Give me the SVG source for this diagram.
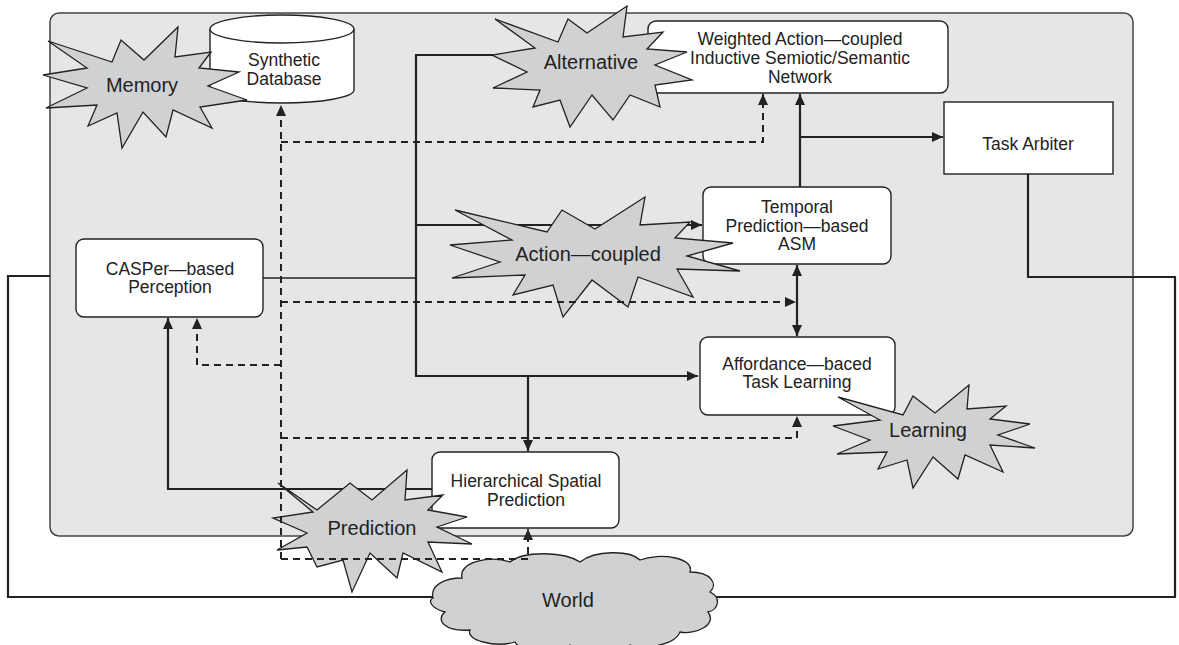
<svg xmlns="http://www.w3.org/2000/svg" width="1179" height="645" viewBox="0 0 1179 645">
<defs>
<style>
.txt{font-family:"Liberation Sans",Arial,sans-serif;fill:#222;text-anchor:middle}
.box{font-size:17.5px}
.big{font-size:20px}
.node{fill:#fff;stroke:#222;stroke-width:1.4}
.burst{fill:#d0d1d3;stroke:#222;stroke-width:1.3;stroke-linejoin:miter}
.solid{fill:none;stroke:#222;stroke-width:2.2}
.thin{fill:none;stroke:#222;stroke-width:1.6}
.dash{fill:none;stroke:#222;stroke-width:2;stroke-dasharray:7 5}
</style>
<marker id="ah" markerUnits="userSpaceOnUse" markerWidth="11" markerHeight="10" refX="11" refY="5" orient="auto-start-reverse">
<path d="M0,0 L11,5 L0,10 Z" fill="#222"/>
</marker>
</defs>
<rect width="1179" height="645" fill="#fff"/>
<rect id="panel" x="50" y="13" width="1083" height="523" rx="9" fill="#e5e6e8" stroke="#444" stroke-width="1.5"/>

<g id="connectors">
<polyline class="solid" points="50,276 8,276 8,597 434,597"/>
<polyline class="solid" points="1028,174 1028,277 1175,277 1175,597 716,597"/>
<line class="thin" x1="263" y1="278" x2="416" y2="278"/>
<polyline class="solid" points="493,55 416,55 416,376 698,376" marker-end="url(#ah)"/>
<line class="solid" x1="416" y1="225" x2="702" y2="225" marker-end="url(#ah)"/>
<line class="solid" x1="528" y1="376" x2="528" y2="451" marker-end="url(#ah)"/>
<line class="solid" x1="800" y1="187" x2="800" y2="94" marker-end="url(#ah)"/>
<line class="solid" x1="800" y1="137" x2="943" y2="137" marker-end="url(#ah)"/>
<line class="solid" x1="797" y1="265" x2="797" y2="336" marker-start="url(#ah)" marker-end="url(#ah)"/>
<polyline class="solid" points="432,489 168,489 168,318" marker-end="url(#ah)"/>
</g>

<g id="node-database">
<path class="node" d="M210,29 L210,90 A72,13 0 0 0 354,90 L354,29"/>
<ellipse class="node" cx="282" cy="29" rx="72" ry="14"/>
<text class="txt box" x="284" y="66">Synthetic</text>
<text class="txt box" x="284" y="85">Database</text>
</g>
<g id="node-waissn">
<rect class="node" x="648" y="21" width="300" height="72" rx="8"/>
<text class="txt box" x="800" y="45">Weighted Action—coupled</text>
<text class="txt box" x="800" y="64">Inductive Semiotic/Semantic</text>
<text class="txt box" x="800" y="83">Network</text>
</g>
<g id="node-arbiter">
<rect class="node" x="944" y="102" width="169" height="72"/>
<text class="txt box" x="1028" y="150">Task Arbiter</text>
</g>
<g id="node-temporal">
<rect class="node" x="703" y="187" width="188" height="77" rx="8"/>
<text class="txt box" x="797" y="213">Temporal</text>
<text class="txt box" x="797" y="232">Prediction—based</text>
<text class="txt box" x="797" y="250">ASM</text>
</g>
<g id="node-affordance">
<rect class="node" x="700" y="337" width="195" height="78" rx="8"/>
<text class="txt box" x="797" y="370">Affordance—baced</text>
<text class="txt box" x="797" y="388">Task Learning</text>
</g>
<g id="node-casper">
<rect class="node" x="76" y="239" width="187" height="78" rx="8"/>
<text class="txt box" x="170" y="275">CASPer—based</text>
<text class="txt box" x="170" y="293">Perception</text>
</g>
<g id="node-hsp">
<rect class="node" x="432" y="452" width="187" height="76" rx="8"/>
<text class="txt box" x="526" y="487">Hierarchical Spatial</text>
<text class="txt box" x="526" y="506">Prediction</text>
</g>

<g id="node-memory">
<polygon class="burst" points="48,41 112,62 121,40 144,60 178,27 175,57 211,52 199,68 239,72 208,86 247,100 200,107 212,128 173,110 166,137 143,112 122,148 117,113 88,126 97,105 46,108 87,88 43,75 87,68"/>
<text class="txt big" x="142" y="92">Memory</text>
</g>
<g id="node-alternative">
<polygon class="burst" points="495,19 558,42 568,19 587,33 627,6 623,37 663,32 647,49 687,52 655,65 692,80 655,85 660,107 630,95 613,120 592,95 570,127 560,100 533,107 540,90 493,88 527,72 492,55 535,48"/>
<text class="txt big" x="591" y="69">Alternative</text>
</g>
<g id="node-action">
<polygon class="burst" points="455,210 547,232 562,210 595,229 645,197 640,225 690,222 675,238 733,243 687,256 740,271 677,269 693,297 638,277 628,307 592,280 563,317 553,285 513,295 525,275 452,278 500,262 450,245 512,240"/>
<text class="txt big" x="588" y="261">Action—coupled</text>
</g>
<g id="node-learning">
<polygon class="burst" points="838,397 903,415 913,396 935,413 969,385 967,409 1006,406 990,419 1030,424 998,435 1035,448 990,445 1003,472 965,455 958,479 933,457 913,488 907,460 878,469 887,452 837,454 870,440 833,426 880,420"/>
<text class="txt big" x="928" y="437">Learning</text>
</g>
<g id="node-prediction">
<polygon class="burst" points="278,483 317,510 350,483 372,500 407,470 405,500 443,495 428,510 467,517 437,527 472,544 428,542 442,572 403,553 397,578 370,553 352,592 343,560 317,567 307,547 277,550 307,533 273,518 313,512"/>
<text class="txt big" x="372" y="535">Prediction</text>
</g>
<g id="node-world">
<path class="burst" d="M433,598 C430,585 445,578 462,578 C458,562 490,555 510,562 C525,550 565,552 580,562 C595,550 630,550 640,560 C660,552 695,558 690,572 C712,572 718,585 710,592 C722,598 718,610 708,612 C718,625 695,635 680,632 C675,645 645,650 630,645 C610,655 580,652 570,645 C555,655 520,652 515,642 C495,648 465,640 470,630 C445,632 435,620 445,612 C430,608 428,600 433,598 Z"/>
<text class="txt big" x="568" y="607">World</text>
</g>

<g id="dashed-connectors">
<line class="dash" x1="281" y1="559" x2="281" y2="105" marker-end="url(#ah)"/>
<polyline class="dash" points="281,142 763,142 763,94" marker-end="url(#ah)"/>
<line class="dash" x1="281" y1="302" x2="796" y2="302" marker-end="url(#ah)"/>
<polyline class="dash" points="281,365 197,365 197,318" marker-end="url(#ah)"/>
<polyline class="dash" points="281,438 797,438 797,416" marker-end="url(#ah)"/>
<polyline class="dash" points="281,559 528,559 528,529" marker-end="url(#ah)"/>
</g>
</svg>
